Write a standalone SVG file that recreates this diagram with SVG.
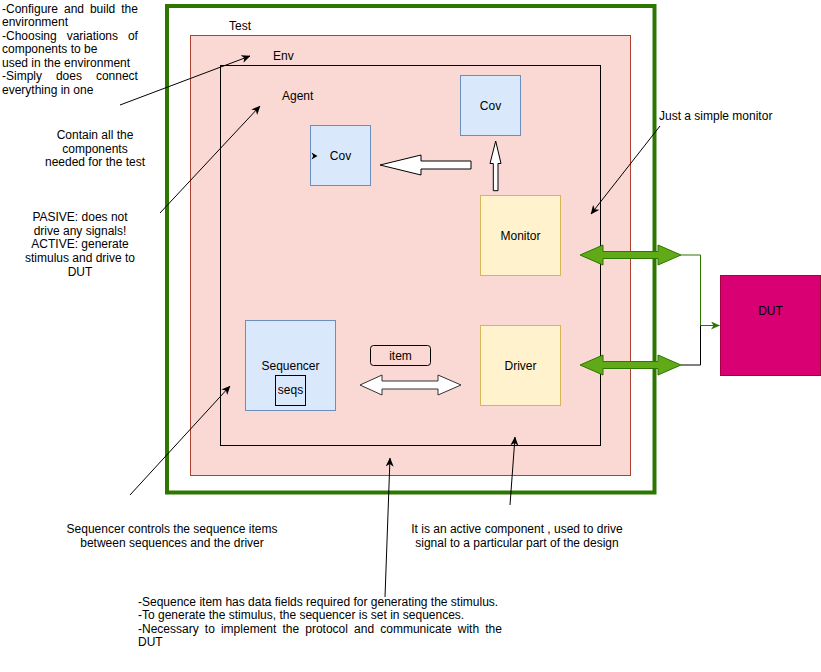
<svg xmlns="http://www.w3.org/2000/svg" width="821" height="672" viewBox="0 0 821 672">
<style>
text{font-family:"Liberation Sans",Arial,sans-serif;font-size:12px;fill:#000}
.c{text-anchor:middle}
.blue{fill:#dae8fc;stroke:#6c8ebf;stroke-width:1}
.yel{fill:#fff2cc;stroke:#d6b656;stroke-width:1}
.ann{fill:none;stroke:#000;stroke-width:1;marker-end:url(#arr)}
.blk{fill:#fff;stroke:#000;stroke-width:1}
.garr{fill:#60a917;stroke:#2d7600;stroke-width:1}
</style>
<defs>
<marker id="arr" markerUnits="userSpaceOnUse" markerWidth="9" markerHeight="8" viewBox="0 0 9 8" refX="8.5" refY="4" orient="auto"><path d="M0,0 L9,4 L0,8 L2.5,4 Z" fill="#000"/></marker>
<marker id="garrow" markerUnits="userSpaceOnUse" markerWidth="9" markerHeight="8" viewBox="0 0 9 8" refX="8.5" refY="4" orient="auto"><path d="M0,0 L9,4 L0,8 L2.5,4 Z" fill="#2d7600"/></marker>
</defs>
<rect width="821" height="672" fill="#fff"/>

<g id="test">
<rect x="167" y="6" width="487.5" height="486.5" fill="none" stroke="#2d7600" stroke-width="4"/>
<text x="229" y="30">Test</text>
</g>
<g id="env">
<rect x="190.5" y="35.5" width="440" height="440" fill="#fad9d5" stroke="#ae4132" stroke-width="1"/>
<text x="273" y="60">Env</text>
</g>
<g id="agent">
<rect x="220.5" y="65.5" width="380" height="380" fill="none" stroke="#000" stroke-width="1"/>
<text x="282" y="100">Agent</text>
</g>
<g id="cov-top">
<rect class="blue" x="460.5" y="75.5" width="60" height="60"/>
<text class="c" x="490.5" y="110">Cov</text>
</g>
<g id="cov-left">
<rect class="blue" x="310.5" y="125.5" width="60" height="60"/>
<text class="c" x="340.5" y="159.5">Cov</text>
<path d="M311.5,152.5 L317.5,156 L311.5,159.5 L313.2,156 Z" fill="#000"/>
</g>
<g id="monitor">
<rect class="yel" x="480.5" y="195.5" width="80" height="80"/>
<text class="c" x="520.5" y="239.5">Monitor</text>
</g>
<g id="sequencer">
<rect class="blue" x="245.5" y="320.5" width="90" height="90"/>
<text class="c" x="290.5" y="369.5">Sequencer</text>
</g>
<g id="seqs">
<rect x="275.5" y="375.5" width="30" height="30" fill="none" stroke="#000" stroke-width="1"/>
<text class="c" x="290.5" y="394">seqs</text>
</g>
<g id="item">
<rect x="370.5" y="345.5" width="60" height="20" rx="3" fill="none" stroke="#000" stroke-width="1"/>
<text class="c" x="400.5" y="359.5">item</text>
</g>
<g id="driver">
<rect class="yel" x="480.5" y="325.5" width="80" height="80"/>
<text class="c" x="520.5" y="369.5">Driver</text>
</g>
<g id="dut">
<rect x="720.5" y="275.5" width="100" height="100" fill="#d80073" stroke="#a50040" stroke-width="1"/>
<text class="c" x="770.5" y="315">DUT</text>
</g>

<g id="notes">
<text x="2" y="12.5" word-spacing="2.6">-Configure and build the</text>
<text x="2" y="26">environment</text>
<text x="2" y="39.5" word-spacing="6.6">-Choosing variations of</text>
<text x="2" y="53">components to be</text>
<text x="2" y="66.5">used in the environment</text>
<text x="2" y="80" word-spacing="10.6">-Simply does connect</text>
<text x="2" y="93.5">everything in one</text>

<text class="c" x="95" y="138.5">Contain all the</text>
<text class="c" x="95" y="152.5">components</text>
<text class="c" x="95" y="166">needed for the test</text>

<text class="c" x="80" y="221">PASIVE: does not</text>
<text class="c" x="80" y="234.5">drive any signals!</text>
<text class="c" x="80" y="248">ACTIVE: generate</text>
<text class="c" x="80" y="262">stimulus and drive to</text>
<text class="c" x="80" y="275.5">DUT</text>

<text x="659" y="120">Just a simple monitor</text>

<text class="c" x="172" y="532.5">Sequencer controls the sequence items</text>
<text class="c" x="172" y="546.5">between sequences and the driver</text>

<text class="c" x="517" y="532.5">It is an active component , used to drive</text>
<text class="c" x="517" y="546.5">signal to a particular part of the design</text>

<text x="138" y="605.5">-Sequence item has data fields required for generating the stimulus.</text>
<text x="138" y="619">-To generate the stimulus, the sequencer is set in sequences.</text>
<text x="138" y="632.5" word-spacing="2.8">-Necessary to implement the protocol and communicate with the</text>
<text x="138" y="646">DUT</text>
</g>

<g id="connectors">
<path class="blk" d="M380,165 L421,155 L421,161 L471,161 L471,169 L421,169 L421,175 Z"/>
<path class="blk" d="M495.7,141 L501,163.5 L498,163.5 L498,190.7 L493.3,190.7 L493.3,163.5 L490,163.5 Z"/>
<path d="M360,385 L382,375 L382,381 L438,381 L438,375 L461,385 L438,395 L438,389 L382,389 L382,395 Z" fill="#fff" stroke="#333" stroke-width="1"/>
<path class="garr" d="M580,255 L603,245 L603,251.5 L658,251.5 L658,245 L681,255 L658,265 L658,258.5 L603,258.5 L603,265 Z"/>
<path class="garr" d="M580,365 L603,355 L603,361.5 L658,361.5 L658,355 L681,365 L658,375 L658,368.5 L603,368.5 L603,375 Z"/>
<path d="M681,255 L700.5,255 L700.5,325.5 L719.5,325.5" fill="none" stroke="#2d7600" stroke-width="1" marker-end="url(#garrow)"/>
<path d="M681,365 L700.5,365 L700.5,325.5" fill="none" stroke="#000" stroke-width="1"/>
<path class="ann" d="M120,105 L250,56"/>
<path class="ann" d="M160,213 L260,106"/>
<path class="ann" d="M660,126 L591,214"/>
<path class="ann" d="M130,495 L230,386"/>
<path class="ann" d="M510,505 L515,437"/>
<path class="ann" d="M385,597 L390,458"/>
</g>
</svg>
